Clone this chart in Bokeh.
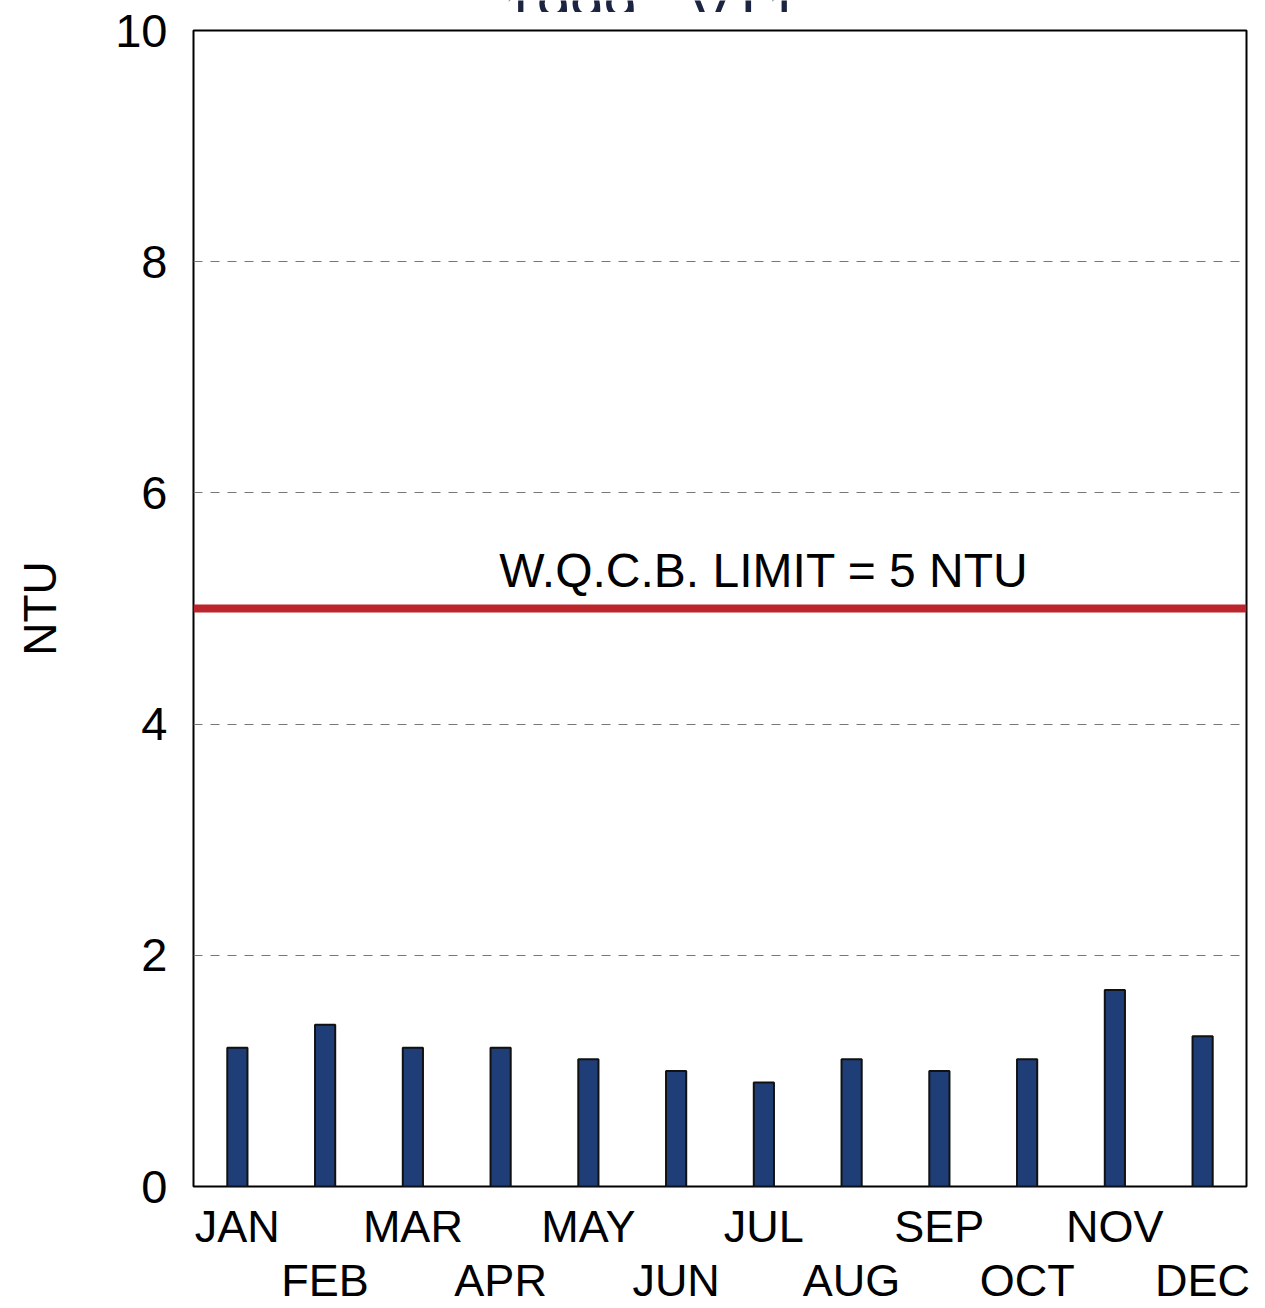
from bokeh.plotting import figure
from bokeh.layouts import column
from bokeh.models import Label, Span, LinearAxis, FixedTicker, Range1d
from bokeh.core.properties import value
from bokeh.embed import file_html
from bokeh.resources import INLINE

months = ["JAN", "FEB", "MAR", "APR", "MAY", "JUN", "JUL", "AUG", "SEP", "OCT", "NOV", "DEC"]
ntu = [1.2, 1.4, 1.2, 1.2, 1.1, 1.0, 0.9, 1.1, 1.0, 1.1, 1.7, 1.3]
y_ticks = [0, 2, 4, 6, 8, 10]
limit_value = 5
limit_text = "W.Q.C.B. LIMIT = 5 NTU"
title_text = "1999 - VT1"

FONT = "Liberation Sans"
xs = list(range(1, len(months) + 1))

W, H, TH = 1257, 1296, 12
FL, FR = 193, 1246  # frame edges in page pixels (strip frame aligns with main frame)

# thin strip showing only the lower edge of the (cut-off) title
t = figure(width=W, height=TH, output_backend="svg", toolbar_location=None,
           x_range=Range1d(FL, FR), y_range=Range1d(0, TH),
           x_axis_type=None, y_axis_type=None,
           min_border_left=0, min_border_right=0, min_border_top=0, min_border_bottom=0)
t.outline_line_color = None
t.grid.grid_line_color = None
t.text(x=[651], y=[2], text=[title_text], text_font=value(FONT), text_font_size="60px",
       text_color="#1b2440", text_align="center", text_baseline="alphabetic")

p = figure(width=W, height=H, output_backend="svg", toolbar_location=None,
           x_range=Range1d(0.5, 12.5), y_range=Range1d(0, 10),
           min_border_left=193, min_border_top=18, min_border_right=11,
           min_border_bottom=115)

p.background_fill_color = "white"
p.border_fill_color = "white"
p.outline_line_color = "black"
p.outline_line_width = 2

# bars
p.vbar(x=xs, top=ntu, width=0.23, bottom=0, fill_color="#1f3e78",
       line_color="#111111", line_width=2)

# limit line
p.add_layout(Span(location=limit_value, dimension="width", line_color="#bd252c",
                  line_width=8))
p.add_layout(Label(x=7.0, y=limit_value, x_offset=0, y_offset=12, text=limit_text,
                   text_font=FONT, text_font_size="48px", text_color="black",
                   text_align="center", text_baseline="bottom"))

# y axis
p.yaxis.ticker = FixedTicker(ticks=y_ticks)
p.yaxis.axis_label = "NTU"
p.yaxis.axis_label_text_font = FONT
p.yaxis.axis_label_text_font_size = "46px"
p.yaxis.axis_label_text_font_style = "normal"
p.yaxis.axis_label_text_color = "black"
p.yaxis.axis_label_standoff = 46
p.yaxis.major_label_text_font = FONT
p.yaxis.major_label_text_font_size = "47px"
p.yaxis.major_label_text_color = "black"
p.yaxis.major_label_standoff = 20
p.yaxis.axis_line_color = None
p.yaxis.major_tick_line_color = None
p.yaxis.minor_tick_line_color = None

p.ygrid.ticker = FixedTicker(ticks=[2, 4, 6, 8])
p.ygrid.grid_line_color = "#777777"
p.ygrid.grid_line_dash = "9 8"
p.ygrid.grid_line_width = 1
p.xgrid.grid_line_color = None

# x axes: odd months on first line, even months on second
p.xaxis.ticker = FixedTicker(ticks=xs)
p.xaxis.major_label_overrides = {x: (m if i % 2 == 0 else " ") for i, (x, m) in enumerate(zip(xs, months))}
ax2 = LinearAxis(ticker=FixedTicker(ticks=xs),
                 major_label_overrides={x: (m if i % 2 == 1 else " ") for i, (x, m) in enumerate(zip(xs, months))})
p.add_layout(ax2, "below")
for ax in (p.xaxis[0], ax2):
    ax.major_label_text_font = FONT
    ax.major_label_text_font_size = "45px"
    ax.major_label_text_color = "black"
    ax.axis_line_color = None
    ax.major_tick_line_color = None
    ax.minor_tick_line_color = None
    ax.major_tick_out = 0
    ax.major_tick_in = 0
    ax.minor_tick_out = 0
    ax.minor_tick_in = 0
p.xaxis[0].major_label_standoff = 14
ax2.major_label_standoff = 0

layout = column(t, p, spacing=0)
open("out.html", "w").write(file_html(layout, INLINE))
